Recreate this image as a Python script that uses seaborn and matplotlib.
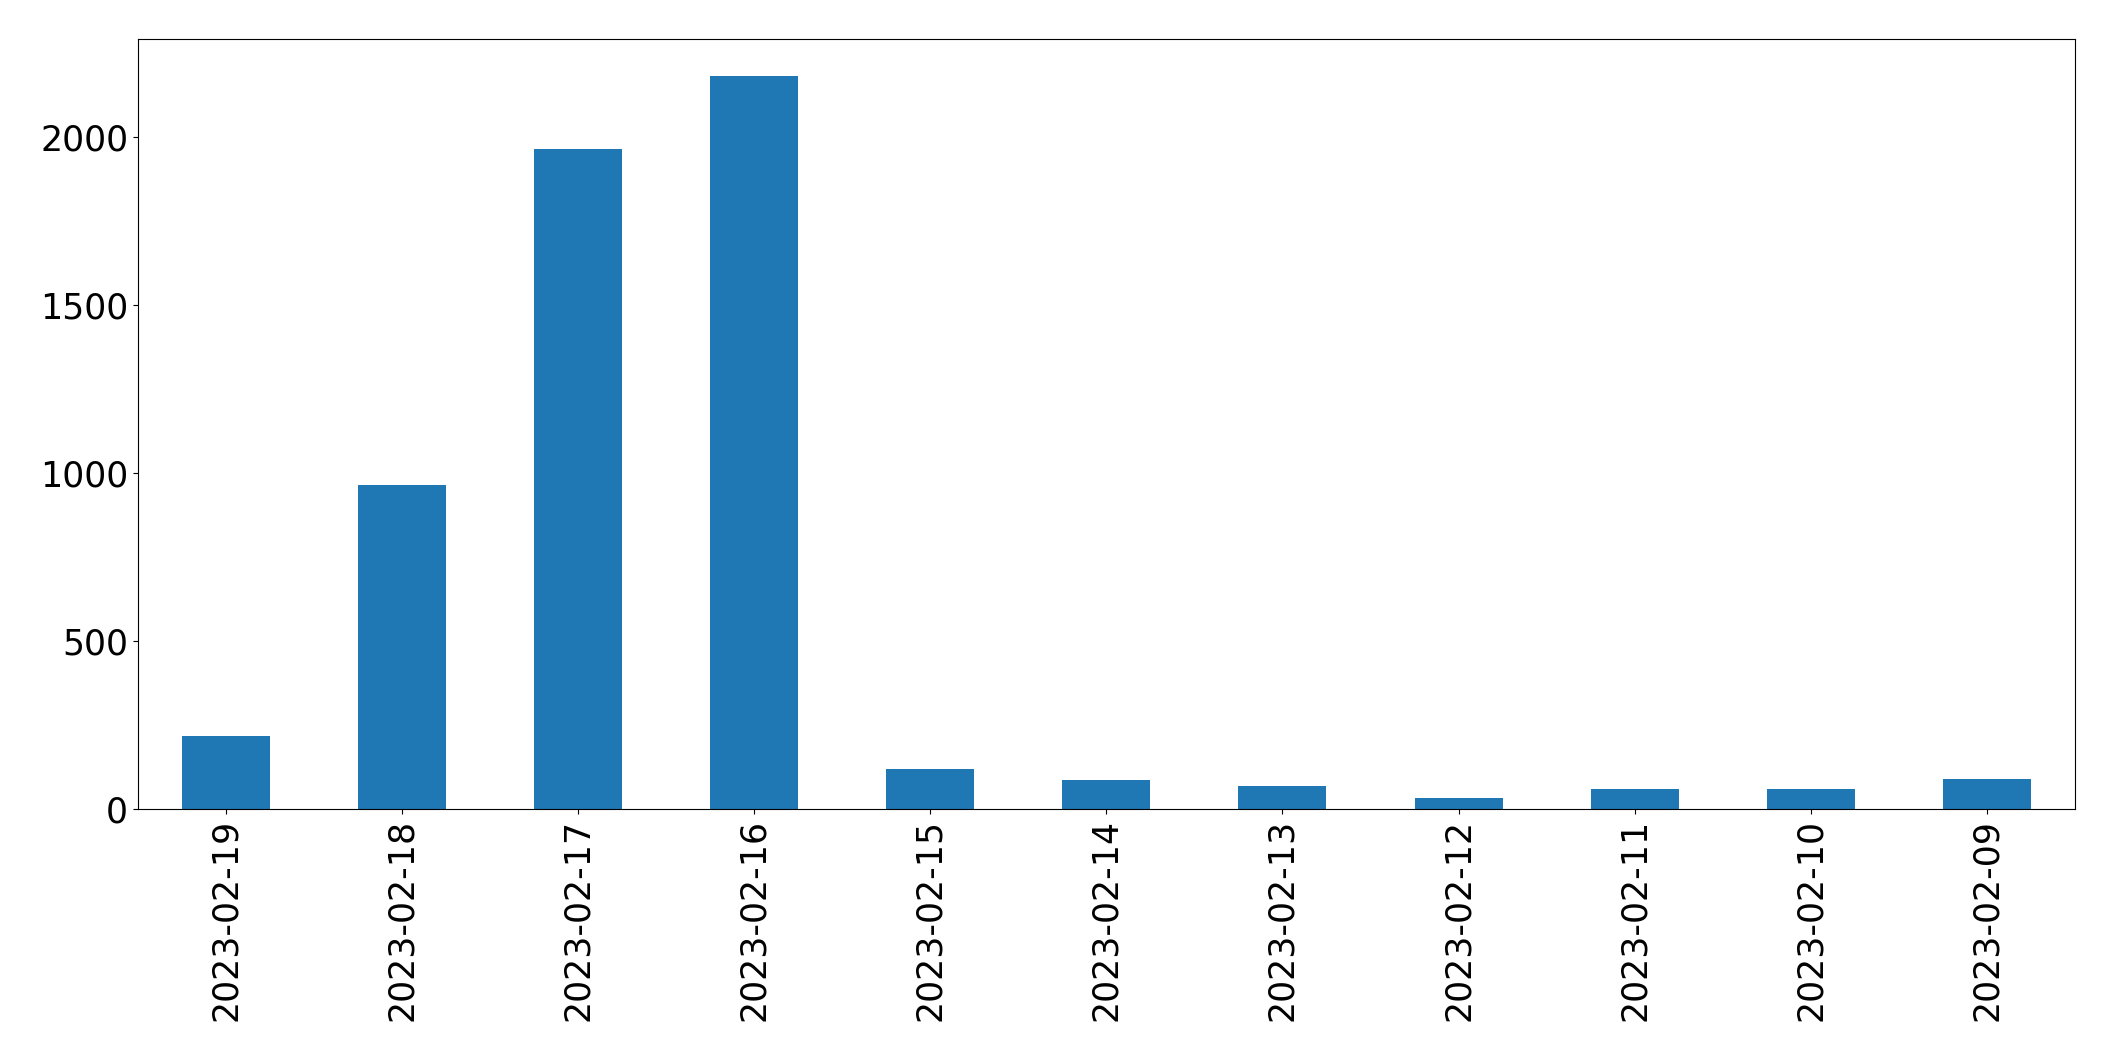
import pandas as pd
import seaborn as sns
import matplotlib.pyplot as plt

fechas = ['2023-02-19', '2023-02-18', '2023-02-17', '2023-02-16', '2023-02-15', '2023-02-14',
          '2023-02-13', '2023-02-12', '2023-02-11', '2023-02-10', '2023-02-09']
cantidades = [218, 965, 1964, 2182, 119, 86, 68, 34, 60, 60, 89]

dados = pd.DataFrame({'fecha': fechas, 'cantidad': cantidades})

plt.rcParams['font.size'] = 25
fig, ax = plt.subplots(figsize=(21.15, 10.61), dpi=100)
sns.barplot(data=dados, x='fecha', y='cantidad', color='#1f77b4', saturation=1, width=0.5, ax=ax)
ax.set_xlim(-0.5, len(fechas) - 0.5)
ax.set_xlabel('')
ax.set_ylabel('')
plt.xticks(rotation=90)
plt.subplots_adjust(left=0.0652, right=0.981, top=0.963, bottom=0.2375)
plt.savefig('out.png', format='png')
